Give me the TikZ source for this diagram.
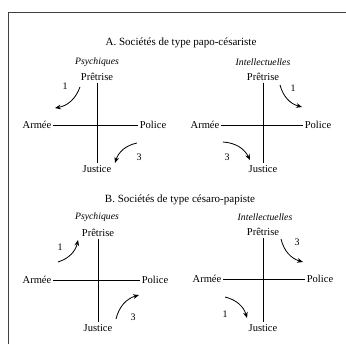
\documentclass[tikz,border=0pt]{standalone}
\usepackage{fontspec}
\setmainfont{Liberation Serif}
\usetikzlibrary{arrows.meta}

\tikzset{
  lbl/.style={inner sep=1.5pt, font=\fontsize{9}{10}\selectfont},
  axe/.style={line width=0.7pt},
  fl/.style={line width=0.7pt, -{Stealth[length=5pt,width=4pt]}},
  num/.style={inner sep=0pt, font=\fontsize{8.5}{9}\selectfont},
  titre/.style={font=\fontsize{9.4}{11}\selectfont},
  sous/.style={font=\fontsize{8.3}{10}\selectfont\itshape},
}

\begin{document}
\begin{tikzpicture}[x=0.03cm,y=-0.03cm]
\useasboundingbox (0,0) rectangle (346,344);
\draw[line width=0.8pt, black!75] (8,344) -- (8,12) -- (346,12);

% A. papo-cesariste
\node[titre] (titreA) at (181,43) {A. Sociétés de type papo-césariste};
\node[sous] (psyA) at (97,62) {Psychiques};
\node[sous] (intA) at (263,62) {Intellectuelles};

% A gauche
\node[lbl] (prA) at (97,77) {Prêtrise};
\node[lbl] (arA) at (37,125) {Armée};
\node[lbl] (poA) at (153,125) {Police};
\node[lbl] (juA) at (97,169) {Justice};
\draw[axe] (prA) -- (juA); % pretrise-justice
\draw[axe] (arA) -- (poA); % armee-police
\coordinate (a1s) at (80,87);
\coordinate (a1e) at (55,108);
\draw[fl] (a1s) to[bend left=30] (a1e);
\node[num] (n1A) at (65,86) {1};
\coordinate (a3s) at (137,143);
\coordinate (a3e) at (115,163);
\draw[fl] (a3s) to[bend right=30] (a3e);
\node[num] (n3A) at (139,157) {3};

% A droite
\node[lbl] (prAd) at (263,77) {Prêtrise};
\node[lbl] (arAd) at (205,125) {Armée};
\node[lbl] (poAd) at (318,125) {Police};
\node[lbl] (juAd) at (263,169) {Justice};
\draw[axe] (prAd) -- (juAd); % pretrise-justice
\draw[axe] (arAd) -- (poAd); % armee-police
\coordinate (b1s) at (280,85);
\coordinate (b1e) at (302,107);
\draw[fl] (b1s) to[bend right=30] (b1e);
\node[num] (n1Ad) at (293,88) {1};
\coordinate (b3s) at (223,142);
\coordinate (b3e) at (250,160);
\draw[fl] (b3s) to[bend left=30] (b3e);
\node[num] (n3Ad) at (227,157) {3};

% B. cesaro-papiste
\node[titre] (titreB) at (180,200) {B. Sociétés de type césaro-papiste};
\node[sous] (psyB) at (97,217) {Psychiques};
\node[sous] (intB) at (265,217) {Intellectuelles};

% B gauche
\node[lbl] (prB) at (98,233) {Prêtrise};
\node[lbl] (arB) at (37,280) {Armée};
\node[lbl] (poB) at (155,280) {Police};
\node[lbl] (juB) at (98,328) {Justice};
\draw[axe] (prB) -- (juB); % pretrise-justice
\draw[axe] (arB) -- (poB); % armee-police
\coordinate (c1s) at (58,262);
\coordinate (c1e) at (78,240);
\draw[fl] (c1s) to[bend right=30] (c1e);
\node[num] (n1B) at (60,247) {1};
\coordinate (c3s) at (116,319);
\coordinate (c3e) at (139,295);
\draw[fl] (c3s) to[bend left=30] (c3e);
\node[num] (n3B) at (133,317) {3};

% B droite
\node[lbl] (prBd) at (263,232) {Prêtrise};
\node[lbl] (arBd) at (207,279) {Armée};
\node[lbl] (poBd) at (320,279) {Police};
\node[lbl] (juBd) at (263,328) {Justice};
\draw[axe] (prBd) -- (juBd); % pretrise-justice
\draw[axe] (arBd) -- (poBd); % armee-police
\coordinate (d3s) at (281,239);
\coordinate (d3e) at (303,262);
\draw[fl] (d3s) to[bend right=30] (d3e);
\node[num] (n3Bd) at (297,242) {3};
\coordinate (d1s) at (225,297);
\coordinate (d1e) at (247,318);
\draw[fl] (d1s) to[bend left=30] (d1e);
\node[num] (n1Bd) at (225,314) {1};
\end{tikzpicture}
\end{document}
